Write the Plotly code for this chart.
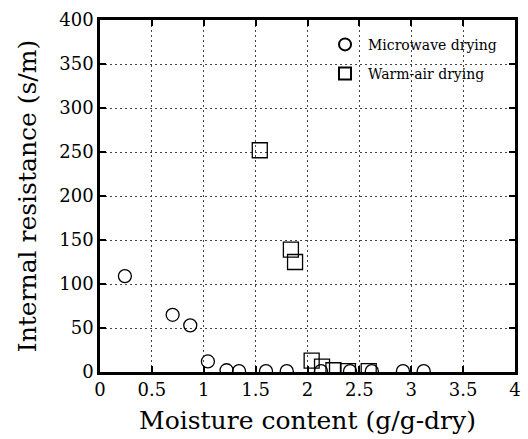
import plotly.graph_objects as go

mw_x = [0.24, 0.70, 0.87, 1.04, 1.22, 1.34, 1.60, 1.80, 2.13, 2.41, 2.62, 2.92, 3.12]
mw_y = [109, 65, 53, 12, 2, 1, 1, 1, 1, 1, 1, 1, 1]
wa_x = [1.54, 1.84, 1.88, 2.04, 2.14, 2.25, 2.39, 2.59]
wa_y = [252, 139, 125, 13, 6, 2, 1, 1]
x_ticks = [0, 0.5, 1, 1.5, 2, 2.5, 3, 3.5, 4]
x_labels = ["0", "0.5", "1", "1.5", "2", "2.5", "3", "3.5", "4"]
y_ticks = [0, 50, 100, 150, 200, 250, 300, 350, 400]

font_fam = "DejaVu Serif"

fig = go.Figure()
fig.add_trace(go.Scatter(x=mw_x, y=mw_y, mode="markers", name="Microwave drying", legendgroup="a",
                         marker=dict(symbol="circle-open", size=13, color="black", line=dict(width=1.3))))
fig.add_trace(go.Scatter(x=wa_x, y=wa_y, mode="markers", name="Warm-air drying", legendgroup="b",
                         marker=dict(symbol="square-open", size=15, color="black", line=dict(width=1.3))))

fig.update_layout(
    width=528, height=439,
    margin=dict(l=100, r=7, t=20, b=67),
    paper_bgcolor="white", plot_bgcolor="white",
    font=dict(family=font_fam, color="black"),
    showlegend=True,
    legend=dict(x=0.535, y=0.975, xanchor="left", yanchor="top", bgcolor="rgba(0,0,0,0)",
                font=dict(size=14, family=font_fam), itemsizing="constant", tracegroupgap=8,
                itemwidth=36),
)
fig.update_xaxes(range=[0, 4], tickvals=x_ticks, ticktext=x_labels, ticks="inside", ticklen=6,
                 tickwidth=1.5, tickcolor="black", showline=True, linewidth=2.5, linecolor="black",
                 mirror="ticks", showgrid=True, gridcolor="#444", griddash="2px,3px", gridwidth=1,
                 zeroline=False, tickfont=dict(size=18),
                 title=dict(text="Moisture content (g/g-dry)", font=dict(size=25), standoff=13))
fig.update_yaxes(range=[0, 400], tickvals=y_ticks, ticks="inside", ticklen=6,
                 tickwidth=1.5, tickcolor="black", showline=True, linewidth=2.5, linecolor="black",
                 mirror="ticks", showgrid=True, gridcolor="#444", griddash="2px,3px", gridwidth=1,
                 zeroline=False, tickfont=dict(size=18),
                 title=dict(text="Internal resistance (s/m)", font=dict(size=25), standoff=16))
fig.write_html("out.html")
